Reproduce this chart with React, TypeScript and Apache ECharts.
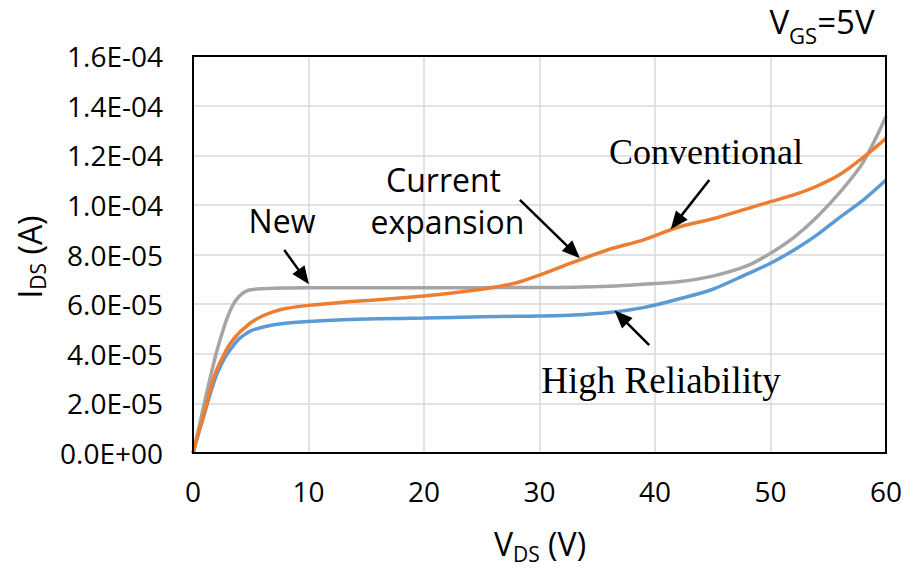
import React, { useEffect, useRef } from 'react';
import * as echarts from 'echarts';

// Drain voltage samples (V)
const vds = [0, 0.5, 1, 1.5, 2, 2.5, 3, 3.5, 4, 4.5, 5, 6, 7, 8, 10, 13, 16, 20, 25, 28, 30, 33, 36, 39, 42, 45, 48, 50, 52, 54, 56, 58, 60];

// Drain current (A) for each device type
const idsNew = [0, 1.0e-5, 2.05e-5, 3.05e-5, 4.0e-5, 4.8e-5, 5.5e-5, 6.0e-5, 6.32e-5, 6.5e-5, 6.58e-5, 6.62e-5, 6.64e-5, 6.65e-5, 6.66e-5, 6.66e-5, 6.66e-5, 6.66e-5, 6.66e-5, 6.67e-5, 6.67e-5, 6.68e-5, 6.72e-5, 6.8e-5, 6.9e-5, 7.13e-5, 7.55e-5, 8.05e-5, 8.68e-5, 9.5e-5, 10.5e-5, 11.7e-5, 13.56e-5];
const idsConventional = [0, 0.85e-5, 1.65e-5, 2.55e-5, 3.3e-5, 3.8e-5, 4.25e-5, 4.58e-5, 4.85e-5, 5.05e-5, 5.25e-5, 5.52e-5, 5.7e-5, 5.82e-5, 5.95e-5, 6.08e-5, 6.18e-5, 6.33e-5, 6.6e-5, 6.86e-5, 7.17e-5, 7.7e-5, 8.2e-5, 8.59e-5, 9.1e-5, 9.44e-5, 9.85e-5, 10.13e-5, 10.4e-5, 10.75e-5, 11.22e-5, 11.9e-5, 12.68e-5];
const idsHighReliability = [0, 0.82e-5, 1.6e-5, 2.4e-5, 3.1e-5, 3.62e-5, 4.02e-5, 4.33e-5, 4.6e-5, 4.78e-5, 4.92e-5, 5.07e-5, 5.17e-5, 5.23e-5, 5.3e-5, 5.37e-5, 5.41e-5, 5.44e-5, 5.49e-5, 5.51e-5, 5.52e-5, 5.56e-5, 5.66e-5, 5.86e-5, 6.2e-5, 6.6e-5, 7.22e-5, 7.65e-5, 8.17e-5, 8.78e-5, 9.5e-5, 10.18e-5, 11.0e-5];

// Tick labels
const yTickLabels = ['0.0E+00', '2.0E-05', '4.0E-05', '6.0E-05', '8.0E-05', '1.0E-04', '1.2E-04', '1.4E-04', '1.6E-04'];
const xTickLabels = ['0', '10', '20', '30', '40', '50', '60'];

const SANS = '"Open Sans", "Noto Sans", sans-serif';
const SERIF = '"Liberation Serif", "DejaVu Serif", serif';

const pairs = (ys: number[]) => vds.map((v, i) => [v, ys[i]]);

function arrowEls(t: number[], h: number[]) {
  const dx = h[0] - t[0];
  const dy = h[1] - t[1];
  const len = Math.hypot(dx, dy);
  const ux = dx / len;
  const uy = dy / len;
  const hl = 18;
  const hw = 7.5;
  const bx = h[0] - ux * hl;
  const by = h[1] - uy * hl;
  return [
    {
      type: 'line',
      z: 100,
      shape: { x1: t[0], y1: t[1], x2: bx + ux * 3, y2: by + uy * 3 },
      style: { stroke: '#000', lineWidth: 2.5 },
    },
    {
      type: 'polygon',
      z: 100,
      shape: { points: [[h[0], h[1]], [bx - uy * hw, by + ux * hw], [bx + uy * hw, by - ux * hw]] },
      style: { fill: '#000' },
    },
  ];
}

export default function App() {
  const ref = useRef<HTMLDivElement>(null);
  useEffect(() => {
    const chart = echarts.init(ref.current!, null, { renderer: 'svg' });
    const lineSeries = (name: string, ys: number[], color: string) => ({
      name,
      type: 'line',
      data: pairs(ys),
      showSymbol: false,
      symbol: 'none',
      smooth: 0.3,
      lineStyle: { color, width: 3.5 },
      itemStyle: { color },
    });
    chart.setOption({
      animation: false,
      grid: { left: 193, right: 21, top: 56, bottom: 116 },
      xAxis: {
        type: 'value',
        min: 0,
        max: 60,
        interval: 10,
        axisLine: { show: false },
        axisTick: { show: false },
        splitLine: { show: true, lineStyle: { color: '#D9D9D9', width: 1.5 } },
        axisLabel: {
          margin: 24,
          color: '#000',
          fontSize: 28,
          fontFamily: SANS,
          formatter: (v: number) => xTickLabels[Math.round(v / 10)],
        },
      },
      yAxis: {
        type: 'value',
        min: 0,
        max: 1.6e-4,
        interval: 2e-5,
        axisLine: { show: false },
        axisTick: { show: false },
        splitLine: { show: true, lineStyle: { color: '#D9D9D9', width: 1.5 } },
        axisLabel: {
          margin: 30,
          color: '#000',
          fontSize: 28,
          fontFamily: SANS,
          formatter: (v: number) => yTickLabels[Math.round(v / 2e-5)],
        },
      },
      series: [
        lineSeries('High Reliability', idsHighReliability, '#5B9BD5'),
        lineSeries('New', idsNew, '#A5A5A5'),
        lineSeries('Conventional', idsConventional, '#ED7D31'),
      ],
    });

    const px = (v: number, i: number) => chart.convertToPixel({ gridIndex: 0 }, [v, i]) as number[];
    const p0 = px(0, 0);
    const p1 = px(60, 1.6e-4);

    const arrows = [
      { tail: [7.9, 8.18e-5], tip: [10.04, 6.8e-5] },
      { tail: [28.3, 10.2e-5], tip: [33.5, 7.85e-5] },
      { tail: [44.7, 11.0e-5], tip: [41.36, 9.02e-5] },
      { tail: [39.5, 4.35e-5], tip: [36.5, 5.74e-5] },
    ];

    const mainRich = (size: number) => ({ fontSize: size, fontFamily: SANS, lineHeight: 48, fill: '#000' });
    const subRich = (size: number, pad: number) => ({ fontSize: size, fontFamily: SANS, lineHeight: 48, fill: '#000', padding: [pad, 0, 0, 0] });

    const graphic: any[] = [
      {
        type: 'rect',
        z: 90,
        shape: { x: p0[0], y: p1[1], width: p1[0] - p0[0], height: p0[1] - p1[1] },
        style: { fill: 'none', stroke: '#000', lineWidth: 2 },
      },
      ...arrows.flatMap((a) => arrowEls(px(a.tail[0], a.tail[1]), px(a.tip[0], a.tip[1]))),
      {
        type: 'text', z: 100, x: 282, y: 220,
        style: { text: 'New', fontSize: 32, fontFamily: SANS, fill: '#000', align: 'center', verticalAlign: 'middle' },
      },
      {
        type: 'text', z: 100, x: 443.5, y: 179,
        style: { text: 'Current', fontSize: 32, fontFamily: SANS, fill: '#000', align: 'center', verticalAlign: 'middle' },
      },
      {
        type: 'text', z: 100, x: 447.5, y: 221,
        style: { text: 'expansion', fontSize: 32, fontFamily: SANS, fill: '#000', align: 'center', verticalAlign: 'middle' },
      },
      {
        type: 'text', z: 100, x: 706, y: 152,
        style: { text: 'Conventional', fontSize: 36, fontFamily: SERIF, fill: '#000', align: 'center', verticalAlign: 'middle' },
      },
      {
        type: 'text', z: 100, x: 661, y: 380,
        style: { text: 'High Reliability', fontSize: 37, fontFamily: SERIF, fill: '#000', align: 'center', verticalAlign: 'middle' },
      },
      {
        type: 'text', z: 100, x: 822, y: 21,
        style: {
          text: '{m|V}{s|GS}{m|=5V}', align: 'center', verticalAlign: 'middle',
          rich: { m: mainRich(33), s: subRich(22, 28) },
        },
      },
      {
        type: 'text', z: 100, x: 540, y: 543,
        style: {
          text: '{m|V}{s|DS}{m| (V)}', align: 'center', verticalAlign: 'middle',
          rich: { m: mainRich(32), s: subRich(21, 22) },
        },
      },
      {
        type: 'text', z: 100, x: 29, y: 257, rotation: Math.PI / 2,
        style: {
          text: '{m|I}{s|DS}{m| (A)}', align: 'center', verticalAlign: 'middle',
          rich: { m: mainRich(32), s: subRich(21, 18) },
        },
      },
    ];
    chart.setOption({ graphic });
    return () => chart.dispose();
  }, []);
  return <div ref={ref} style={{ position: 'absolute', left: 0, top: 0, width: 907, height: 569 }} />;
}
